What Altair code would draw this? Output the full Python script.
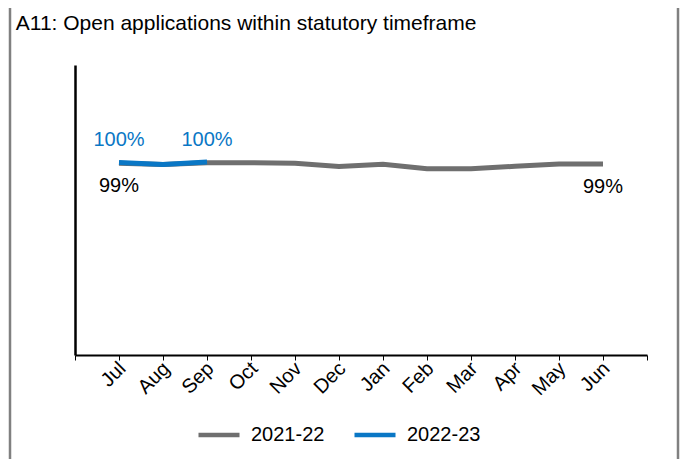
import altair as alt
import pandas as pd

months = ["Jul", "Aug", "Sep", "Oct", "Nov", "Dec", "Jan", "Feb", "Mar", "Apr", "May", "Jun"]
series_names = ["2021-22", "2022-23"]
values_2021_22 = [0.992, 0.985, 0.994, 0.994, 0.992, 0.975, 0.986, 0.963, 0.964, 0.976, 0.988, 0.988]
values_2022_23 = [0.996, 0.985, 0.998]

GRAY = "#6f6f6f"
BLUE = "#0a77c5"
FONT = "Liberation Sans"

rows = []
for name, vals in zip(series_names, [values_2021_22, values_2022_23]):
    for i, v in enumerate(vals):
        rows.append({"series": name, "month": months[i], "idx": i + 1, "value": v,
                     "edge": i == 0 or i == len(vals) - 1})
df = pd.DataFrame(rows)

label_expr = "[" + ",".join(["''"] + ["'%s'" % m for m in months] + ["''"]) + "][datum.value]"

x = alt.X("idx:Q", scale=alt.Scale(domain=[0, len(months) + 1], nice=False, zero=False),
          axis=alt.Axis(title=None, values=list(range(len(months) + 2)), labelExpr=label_expr,
                        labelAngle=-45, labelAlign="right", labelBaseline="top",
                        labelFont=FONT, labelFontSize=20, labelColor="#000000",
                        labelPadding=-2, labelOffset=-4,
                        domainColor="#000000", domainWidth=2, tickColor="#000000",
                        tickSize=5, tickWidth=1, grid=False))
y = alt.Y("value:Q", scale=alt.Scale(domain=[0, 1.5], nice=False),
          axis=alt.Axis(title=None, labels=False, ticks=False, grid=False,
                        domainColor="#000000", domainWidth=2.5))

color = alt.Color("series:N", scale=alt.Scale(domain=series_names, range=[GRAY, BLUE]),
                  legend=alt.Legend(title=None, orient="none", legendX=121, legendY=347,
                                    direction="horizontal", symbolType="stroke",
                                    symbolSize=1681, symbolStrokeWidth=4.5,
                                    labelFont=FONT, labelFontSize=20, labelColor="#000000",
                                    labelOffset=9, columnPadding=20, padding=0))

base = alt.Chart(df)

lines = base.mark_line(strokeWidth=5).encode(x=x, y=y, color=color, order="idx:Q")

lab_gray = base.transform_filter(
    (alt.datum.series == series_names[0]) & alt.datum.edge
).mark_text(font=FONT, fontSize=20, dy=23, color="#000000").encode(
    x=x, y=y, text=alt.Text("value:Q", format=".0%"))

lab_blue = base.transform_filter(
    (alt.datum.series == series_names[1]) & alt.datum.edge
).mark_text(font=FONT, fontSize=20, dy=-22, color=BLUE).encode(
    x=x, y=y, text=alt.Text("value:Q", format=".0%"))

frame_df = pd.DataFrame({"k": [0]})
frame_left = alt.Chart(frame_df).mark_rule(color="#808080", strokeWidth=2.5).encode(
    x=alt.value(-65), y=alt.value(-70), y2=alt.value(400))
frame_right = alt.Chart(frame_df).mark_rule(color="#808080", strokeWidth=2.5).encode(
    x=alt.value(603), y=alt.value(-70), y2=alt.value(400))

chart = alt.layer(frame_left, frame_right, lines, lab_gray, lab_blue).properties(
    width=572, height=290,
    title=alt.TitleParams("A11: Open applications within statutory timeframe", anchor="start",
                          font=FONT, fontSize=21, fontWeight="normal", color="#000000",
                          dx=7, offset=-40),
    autosize=alt.AutoSizeParams(type="none"),
    padding={"left": 67, "top": 57, "right": 33, "bottom": 104},
).configure_view(stroke=None)

chart.save("out.html", embed_options={"renderer": "svg", "actions": False})
